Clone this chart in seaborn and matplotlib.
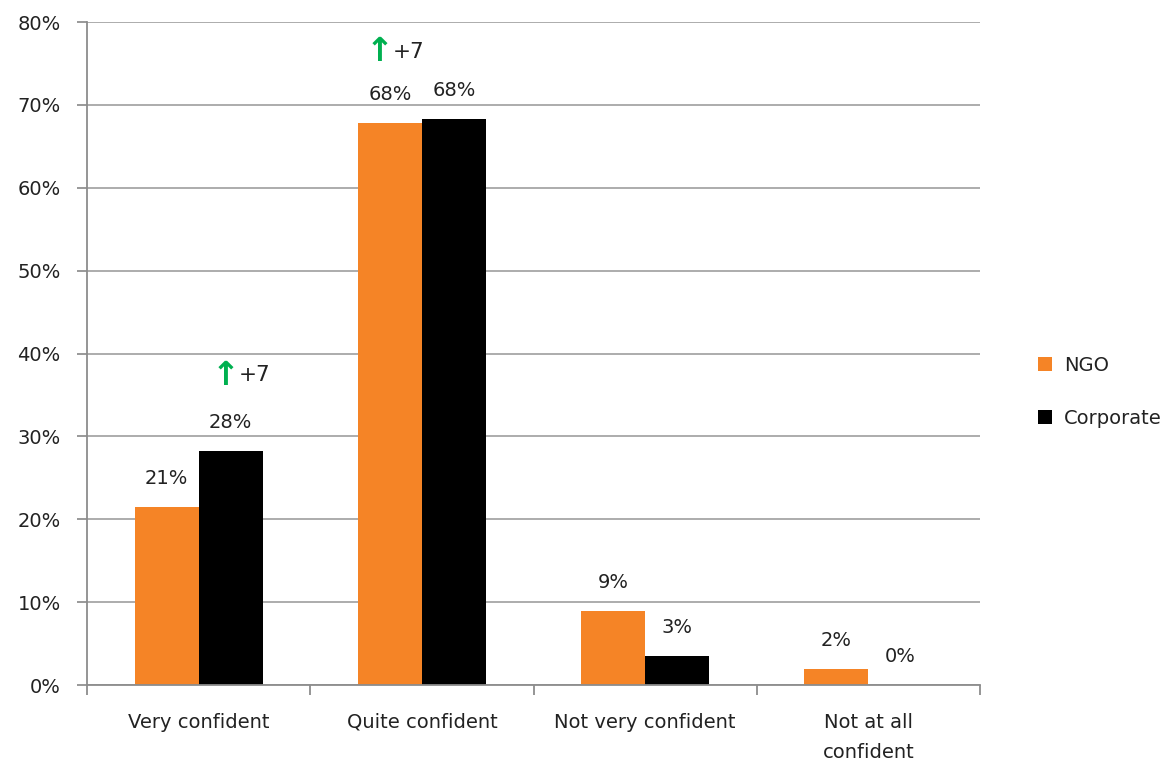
import matplotlib
matplotlib.use("Agg")
import matplotlib.pyplot as plt
import seaborn as sns
import pandas as pd
import numpy as np
from matplotlib.ticker import FixedLocator, PercentFormatter

# data
categories = ["Very confident", "Quite confident", "Not very confident", "Not at all\nconfident"]
ngo = [21.5, 67.8, 8.9, 1.9]
corporate = [28.2, 68.3, 3.5, 0.0]
ngo_labels = ["21%", "68%", "9%", "2%"]
corp_labels = ["28%", "68%", "3%", "0%"]
change_labels = ["+7", "+7"]

df = pd.DataFrame({
    "category": categories * 2,
    "value": ngo + corporate,
    "group": ["NGO"] * 4 + ["Corporate"] * 4,
})

sns.set_theme(style="white")
plt.rcParams['font.family'] = ['DejaVu Sans']

FS = 14

fig = plt.figure(figsize=(11.7, 7.67), dpi=100)
ax = fig.add_axes([0.0744, 0.1069, 0.7632, 0.8644])

palette = {"NGO": "#F58426", "Corporate": "#000000"}
sns.barplot(data=df, x="category", y="value", hue="group", palette=palette,
            width=0.574, ax=ax, saturation=1, legend=True, linewidth=0,
            edgecolor="none")

ax.set_ylim(0, 80)
ax.set_xlim(-0.5, 3.5)
ax.yaxis.set_major_locator(FixedLocator(np.arange(0, 81, 10)))
ax.yaxis.set_major_formatter(PercentFormatter(decimals=0))
ax.grid(axis="y", color="#A6A6A6", linewidth=1.3)
ax.set_axisbelow(True)

for s in ["top", "right"]:
    ax.spines[s].set_visible(False)
for s in ["left", "bottom"]:
    ax.spines[s].set_color("#8C8C8C")
    ax.spines[s].set_linewidth(1.3)

ax.set_xlabel("")
ax.set_ylabel("")
ax.tick_params(axis="y", which="major", left=True, length=7, color="#8C8C8C",
               labelsize=FS, pad=12, labelcolor="#222222")
ax.tick_params(axis="x", which="major", length=0, labelsize=FS, pad=20,
               labelcolor="#222222")
for t in ax.get_xticklabels():
    t.set_linespacing(1.75)
    t.set_verticalalignment("top")
ax.xaxis.set_minor_locator(FixedLocator([-0.5, 0.5, 1.5, 2.5, 3.5]))
ax.tick_params(axis="x", which="minor", bottom=True, length=7, color="#8C8C8C", width=1.3)

# value labels
off = 0.574 / 4
for i in range(4):
    ax.text(i - off, ngo[i] + 2.3, ngo_labels[i], ha="center", va="bottom",
            fontsize=FS, color="#222222")
    ax.text(i + off, corporate[i] + 2.3, corp_labels[i], ha="center", va="bottom",
            fontsize=FS, color="#222222")

# change annotations
arrow_pos = [(0.12, 37.4), (0.81, 76.4)]
for (x, y), lab in zip(arrow_pos, change_labels):
    ax.text(x, y, "↑", ha="center", va="center", fontsize=24, fontweight="bold",
            color="#00B050")
    ax.text(x + 0.06, y, lab, ha="left", va="center", fontsize=15.5, color="#222222")

leg = ax.legend(loc="center left", bbox_to_anchor=(1.045, 0.442), frameon=False,
                fontsize=FS, handlelength=0.75, handleheight=0.75,
                labelspacing=1.75, handletextpad=0.6)
for t in leg.get_texts():
    t.set_color("#222222")

fig.savefig("out.png", dpi=100)
